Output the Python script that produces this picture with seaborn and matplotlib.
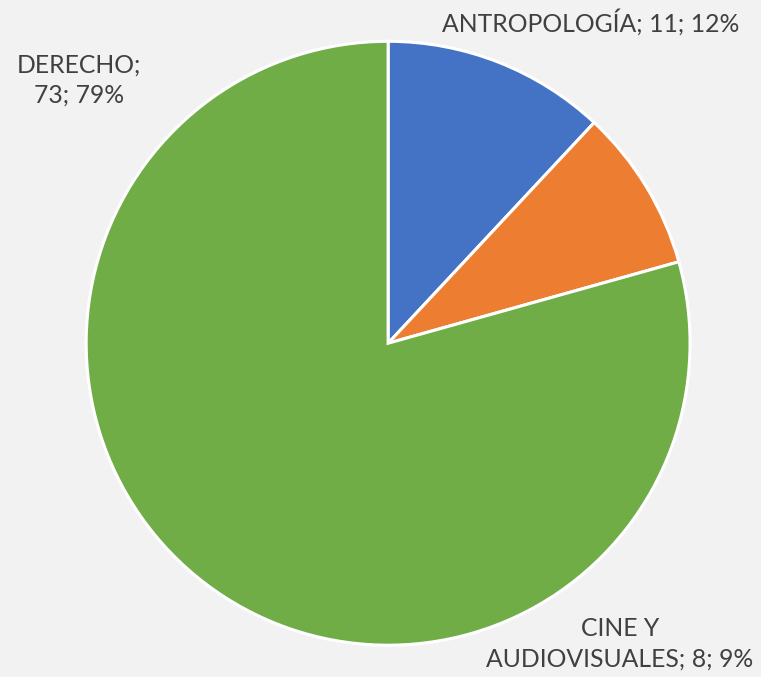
import matplotlib
matplotlib.use("Agg")
import matplotlib.pyplot as plt
import seaborn as sns

# datos del gráfico
carreras = ["ANTROPOLOGÍA", "CINE Y\nAUDIOVISUALES", "DERECHO"]
cantidades = [11, 8, 73]
colores = ["#4472C4", "#ED7D31", "#70AD47"]

sns.set_style("white")
plt.rcParams["font.family"] = ["Lato", "DejaVu Sans"]

fig = plt.figure(figsize=(7.61, 6.77), dpi=100)
fig.patch.set_facecolor("#F2F2F2")
ax = fig.add_axes([0.113, 0.047, 0.794, 0.892])
ax.set_facecolor("#F2F2F2")

ax.pie(cantidades, colors=colores, startangle=90, counterclock=False,
       radius=1, wedgeprops=dict(edgecolor="white", linewidth=2.2))
ax.set_xlim(-1, 1)
ax.set_ylim(-1, 1)
ax.set_aspect("equal")
ax.axis("off")

total = sum(cantidades)
etiquetas = []
for nombre, n in zip(carreras, cantidades):
    etiquetas.append(f"{nombre}; {n}; {round(n / total * 100)}%")

# posiciones de etiquetas en pixeles (x, y desde arriba)
pos = [(591, 22), (620, 644), (79, 80)]
textos = [etiquetas[0], "CINE Y\nAUDIOVISUALES; 8; 9%", "DERECHO;\n73; 79%"]
for t, (px, py) in zip(textos, pos):
    fig.text(px / 761, 1 - py / 677, t, ha="center", va="center",
             fontsize=17.8, color="#404040", linespacing=1.4)

fig.savefig("out.png", dpi=100, facecolor=fig.get_facecolor())
